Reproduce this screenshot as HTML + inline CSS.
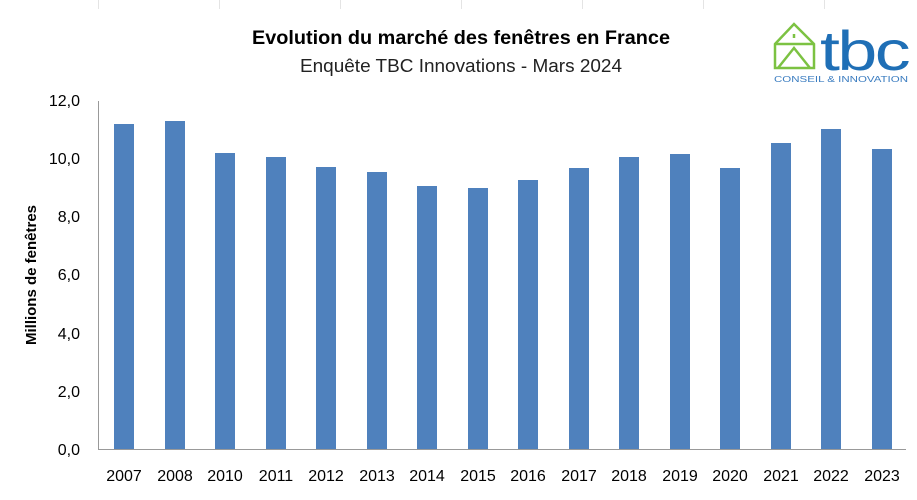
<!DOCTYPE html>
<html><head><meta charset="utf-8"><style>
body{margin:0;background:#fff;}
svg{display:block;font-family:"Liberation Sans",sans-serif;}
</style></head><body>
<svg width="917" height="500" viewBox="0 0 917 500">
<g stroke="#e4e4e4" stroke-width="1">
<line x1="98.5" y1="0" x2="98.5" y2="9"/><line x1="219.5" y1="0" x2="219.5" y2="9"/><line x1="340.5" y1="0" x2="340.5" y2="9"/><line x1="461.5" y1="0" x2="461.5" y2="9"/><line x1="582.5" y1="0" x2="582.5" y2="9"/><line x1="703.5" y1="0" x2="703.5" y2="9"/><line x1="824.5" y1="0" x2="824.5" y2="9"/>
</g>
<text x="461" y="44" text-anchor="middle" font-size="19.5" font-weight="bold" fill="#000" textLength="418" lengthAdjust="spacingAndGlyphs">Evolution du marché des fenêtres en France</text>
<text x="461" y="72" text-anchor="middle" font-size="18" fill="#222" textLength="322" lengthAdjust="spacingAndGlyphs">Enquête TBC Innovations - Mars 2024</text>
<!-- logo -->
<g fill="none" stroke="#7cc242" stroke-width="2.5">
<path d="M775 68 L775 44 L794 24 L814 44 L814 68 Z"/>
<path d="M775 44 L814 44"/>
<path d="M778 68 L794 48 L810 68"/>
<line x1="794" y1="34" x2="794" y2="38"/>
</g>
<text x="820" y="70" font-size="56" fill="#1f6fb6" letter-spacing="-2" textLength="88" lengthAdjust="spacingAndGlyphs">tbc</text>
<text x="774" y="82" font-size="8" fill="#3a7cc0" textLength="134" lengthAdjust="spacingAndGlyphs">CONSEIL &amp; INNOVATION</text>
<!-- axes -->
<line x1="98.5" y1="101" x2="98.5" y2="450" stroke="#999" stroke-width="1"/>
<line x1="98" y1="449.5" x2="906" y2="449.5" stroke="#999" stroke-width="1"/>
<g font-size="16" fill="#000" text-anchor="end">
<text x="80" y="106">12,0</text><text x="80" y="164">10,0</text><text x="80" y="222">8,0</text><text x="80" y="280">6,0</text><text x="80" y="339">4,0</text><text x="80" y="397">2,0</text><text x="80" y="455">0,0</text>
</g>
<text transform="translate(36,275) rotate(-90)" text-anchor="middle" font-size="15" font-weight="bold">Millions de fenêtres</text>
<g fill="#4f81bd">
<rect x="114" y="124" width="20" height="325"/>
<rect x="165" y="121" width="20" height="328"/>
<rect x="215" y="153" width="20" height="296"/>
<rect x="266" y="157" width="20" height="292"/>
<rect x="316" y="167" width="20" height="282"/>
<rect x="367" y="172" width="20" height="277"/>
<rect x="417" y="186" width="20" height="263"/>
<rect x="468" y="188" width="20" height="261"/>
<rect x="518" y="180" width="20" height="269"/>
<rect x="569" y="168" width="20" height="281"/>
<rect x="619" y="157" width="20" height="292"/>
<rect x="670" y="154" width="20" height="295"/>
<rect x="720" y="168" width="20" height="281"/>
<rect x="771" y="143" width="20" height="306"/>
<rect x="821" y="129" width="20" height="320"/>
<rect x="872" y="149" width="20" height="300"/>
</g>
<g font-size="16" fill="#000" text-anchor="middle">
<text x="124" y="481">2007</text><text x="175" y="481">2008</text><text x="225" y="481">2010</text><text x="276" y="481">2011</text><text x="326" y="481">2012</text><text x="377" y="481">2013</text><text x="427" y="481">2014</text><text x="478" y="481">2015</text><text x="528" y="481">2016</text><text x="579" y="481">2017</text><text x="629" y="481">2018</text><text x="680" y="481">2019</text><text x="730" y="481">2020</text><text x="781" y="481">2021</text><text x="831" y="481">2022</text><text x="882" y="481">2023</text>
</g>
</svg>
</body></html>
